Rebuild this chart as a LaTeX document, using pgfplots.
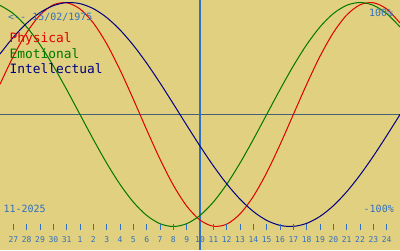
\documentclass[border=0pt]{standalone}
\usepackage{pgfplots}
\pgfplotsset{compat=1.18}
\usepackage{fontspec}
\newfontfamily\pix{DejaVu Sans Mono}
\definecolor{bgc}{RGB}{224,208,128}
\definecolor{lblue}{RGB}{48,112,192}
\definecolor{hline}{RGB}{70,95,120}
\definecolor{phys}{RGB}{224,0,0}
\definecolor{emo}{RGB}{0,120,0}
\definecolor{intel}{RGB}{0,0,128}
\begin{document}
\begin{tikzpicture}
\begin{axis}[
  width=400pt,height=250pt,scale only axis,
  xmin=-15,xmax=15,ymin=-1.2098,ymax=1.0223,
  axis line style={draw=none},
  xtick=\empty,ytick=\empty,
  axis background/.style={fill=bgc},
]
% reference lines
\draw[hline,line width=1.6pt] (axis cs:-15,0) -- (axis cs:15,0);
\draw[lblue,line width=1.2pt] (axis cs:0,-1.2098) -- (axis cs:0,1.0223);
% curves
\addplot[phys,line width=1pt,smooth] coordinates {
(-15,0.2698) (-14,0.5196) (-13,0.7308) (-12,0.8879) (-11,0.9791) (-10,0.9977) (-9,0.9423) (-8,0.8170) (-7,0.6311) (-6,0.3984) (-5,0.1362) (-4,-0.1362) (-3,-0.3984) (-2,-0.6311) (-1,-0.8170) (0,-0.9423) (1,-0.9977) (2,-0.9791) (3,-0.8879) (4,-0.7308) (5,-0.5196) (6,-0.2698) (7,0) (8,0.2698) (9,0.5196) (10,0.7308) (11,0.8879) (12,0.9791) (13,0.9977) (14,0.9423) (15,0.8170)};
\addplot[emo,line width=1pt,smooth] coordinates {
(-15,0.9749) (-14,0.9010) (-13,0.7818) (-12,0.6235) (-11,0.4339) (-10,0.2225) (-9,0) (-8,-0.2225) (-7,-0.4339) (-6,-0.6235) (-5,-0.7818) (-4,-0.9010) (-3,-0.9749) (-2,-1) (-1,-0.9749) (0,-0.9010) (1,-0.7818) (2,-0.6235) (3,-0.4339) (4,-0.2225) (5,0) (6,0.2225) (7,0.4339) (8,0.6235) (9,0.7818) (10,0.9010) (11,0.9749) (12,1) (13,0.9749) (14,0.9010) (15,0.7818)};
\addplot[intel,line width=1pt,smooth] coordinates {
(-15,0.5406) (-14,0.6901) (-13,0.8146) (-12,0.9096) (-11,0.9718) (-10,0.9989) (-9,0.9898) (-8,0.9450) (-7,0.8660) (-6,0.7557) (-5,0.6182) (-4,0.4582) (-3,0.2817) (-2,0.0951) (-1,-0.0951) (0,-0.2817) (1,-0.4582) (2,-0.6182) (3,-0.7557) (4,-0.8660) (5,-0.9450) (6,-0.9898) (7,-0.9989) (8,-0.9718) (9,-0.9096) (10,-0.8146) (11,-0.6901) (12,-0.5406) (13,-0.3717) (14,-0.1893) (15,0)};
% texts
\node[anchor=base west,inner sep=0pt,text=lblue,font=\pix\fontsize{10}{12}\selectfont] at (axis cs:-14.4,0.8375) {<-- 15/02/1975};
\node[anchor=base west,inner sep=0pt,text=phys,font=\pix\fontsize{12.9}{14}\selectfont] at (axis cs:-14.3,0.641) {Physical};
\node[anchor=base west,inner sep=0pt,text=emo,font=\pix\fontsize{12.9}{14}\selectfont] at (axis cs:-14.3,0.502) {Emotional};
\node[anchor=base west,inner sep=0pt,text=intel,font=\pix\fontsize{12.9}{14}\selectfont] at (axis cs:-14.3,0.368) {Intellectual};
\node[anchor=base east,inner sep=0pt,text=lblue,font=\pix\fontsize{10}{12}\selectfont] at (axis cs:14.5,0.879) {100\%};
\node[anchor=base east,inner sep=0pt,text=lblue,font=\pix\fontsize{10}{12}\selectfont] at (axis cs:14.55,-0.879) {-100\%};
\node[anchor=base west,inner sep=0pt,text=lblue,font=\pix\fontsize{10}{12}\selectfont] at (axis cs:-14.75,-0.879) {11-2025};
% day ticks
\pgfplotsinvokeforeach{-14,...,14}{
  \draw[lblue,line width=1pt] (axis cs:#1,-0.978) -- (axis cs:#1,-1.032);
}
\pgfplotsinvokeforeach{-14,...,-10}{
  \node[anchor=base,inner sep=0pt,text=lblue,font=\pix\fontsize{8}{9}\selectfont] at (axis cs:#1,-1.1384) {\the\numexpr#1+41\relax};
}
\pgfplotsinvokeforeach{-9,...,14}{
  \node[anchor=base,inner sep=0pt,text=lblue,font=\pix\fontsize{8}{9}\selectfont] at (axis cs:#1,-1.1384) {\the\numexpr#1+10\relax};
}
\end{axis}
\end{tikzpicture}
\end{document}
